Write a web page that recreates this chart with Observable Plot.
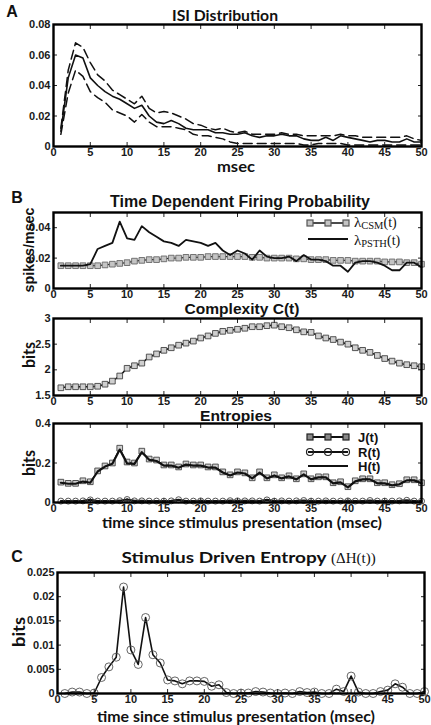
<!DOCTYPE html>
<html><head><meta charset="utf-8">
<script src="https://cdn.jsdelivr.net/npm/d3@7"></script>
<script src="https://cdn.jsdelivr.net/npm/@observablehq/plot@0.6"></script>
<style>
html,body{margin:0;padding:0;background:#fff;}
#root{position:relative;width:431px;height:725px;overflow:hidden;background:#fff;}
#root svg{position:absolute;left:0;}
</style></head><body><div id="root"></div>
<script>
// ---- data ----
const t = [1,2,3,4,5,6,7,8,9,10,11,12,13,14,15,16,17,18,19,20,21,22,23,24,25,26,27,28,29,30,31,32,33,34,35,36,37,38,39,40,41,42,43,44,45,46,47,48,49,50];
const isiMean  = [0.010,0.045,0.060,0.058,0.045,0.040,0.036,0.033,0.031,0.028,0.025,0.027,0.020,0.016,0.015,0.017,0.015,0.012,0.011,0.011,0.011,0.009,0.009,0.008,0.008,0.009,0.007,0.006,0.007,0.007,0.008,0.007,0.007,0.005,0.004,0.004,0.006,0.004,0.007,0.006,0.005,0.004,0.003,0.004,0.004,0.003,0.003,0.005,0.003,0.003];
const isiUpper = [0.012,0.050,0.068,0.065,0.055,0.047,0.043,0.037,0.034,0.031,0.028,0.033,0.025,0.022,0.023,0.022,0.020,0.018,0.015,0.014,0.012,0.011,0.012,0.010,0.009,0.010,0.008,0.008,0.008,0.008,0.009,0.008,0.008,0.007,0.007,0.007,0.007,0.007,0.008,0.007,0.007,0.006,0.006,0.006,0.006,0.006,0.006,0.007,0.005,0.004];
const isiLower = [0.008,0.035,0.050,0.046,0.036,0.032,0.029,0.024,0.022,0.020,0.016,0.021,0.016,0.013,0.013,0.013,0.012,0.011,0.008,0.007,0.007,0.006,0.005,0.003,0.002,0.002,0.002,0.002,0.002,0.002,0.002,0.002,0.002,0.001,0.001,0.002,0.002,0.002,0.002,0.001,0.001,0.001,0.001,0.001,0.001,0.001,0.001,0.001,0.001,0.001];
const lambdaCSM  = [0.015,0.015,0.015,0.015,0.015,0.015,0.0155,0.016,0.0165,0.017,0.018,0.0185,0.019,0.019,0.0195,0.020,0.020,0.0205,0.0205,0.0205,0.021,0.021,0.021,0.021,0.021,0.021,0.0205,0.0205,0.020,0.020,0.020,0.020,0.0195,0.0195,0.019,0.019,0.019,0.0185,0.0185,0.0185,0.018,0.018,0.018,0.018,0.0175,0.0175,0.0175,0.017,0.017,0.016];
const lambdaPSTH = [0.015,0.015,0.015,0.015,0.016,0.026,0.028,0.030,0.044,0.033,0.032,0.041,0.037,0.034,0.031,0.030,0.028,0.032,0.031,0.030,0.028,0.030,0.025,0.022,0.025,0.023,0.019,0.025,0.021,0.020,0.020,0.021,0.018,0.022,0.019,0.019,0.018,0.015,0.015,0.011,0.017,0.018,0.018,0.017,0.015,0.012,0.012,0.017,0.017,0.014];
const complexity = [1.65,1.67,1.67,1.67,1.67,1.68,1.72,1.78,1.88,2.03,2.08,2.13,2.25,2.31,2.38,2.43,2.48,2.52,2.56,2.62,2.66,2.71,2.75,2.77,2.79,2.81,2.84,2.84,2.86,2.87,2.84,2.82,2.78,2.74,2.73,2.66,2.62,2.59,2.54,2.50,2.43,2.38,2.34,2.28,2.22,2.17,2.13,2.10,2.08,2.06];
const entropyJ = [0.103,0.097,0.097,0.110,0.105,0.160,0.185,0.200,0.275,0.205,0.200,0.260,0.220,0.215,0.190,0.190,0.180,0.195,0.190,0.190,0.180,0.180,0.155,0.140,0.155,0.150,0.125,0.155,0.125,0.140,0.125,0.135,0.120,0.145,0.120,0.130,0.130,0.100,0.105,0.080,0.110,0.120,0.120,0.100,0.100,0.090,0.095,0.115,0.115,0.100];
const entropyH = [0.100,0.095,0.095,0.106,0.100,0.157,0.182,0.196,0.268,0.198,0.196,0.255,0.216,0.210,0.187,0.187,0.176,0.192,0.187,0.187,0.177,0.177,0.152,0.137,0.152,0.147,0.122,0.151,0.122,0.137,0.122,0.132,0.117,0.142,0.117,0.127,0.127,0.097,0.102,0.077,0.107,0.117,0.117,0.097,0.097,0.087,0.092,0.112,0.112,0.097];
const entropyR = [0.007,0.007,0.007,0.008,0.013,0.007,0.007,0.007,0.009,0.015,0.008,0.008,0.007,0.007,0.007,0.008,0.014,0.007,0.007,0.008,0.007,0.007,0.007,0.009,0.008,0.008,0.008,0.007,0.013,0.007,0.008,0.007,0.008,0.010,0.007,0.007,0.008,0.007,0.007,0.008,0.007,0.007,0.010,0.007,0.007,0.007,0.008,0.011,0.007,0.007];
const deltaH = [0,0.0003,0.0003,0,0.0001,0.0033,0.0055,0.0075,0.022,0.009,0.006,0.0157,0.008,0.0063,0.0028,0.0026,0.002,0.0026,0.0026,0.0025,0.0015,0.0018,0.0002,0,0.0001,0.0001,0.0004,0.0003,0.0001,0,0.0001,0,0.0004,0.0002,0.0003,0,0,0.0009,0.0004,0.0036,0.0003,0,0,0.0004,0.0007,0.002,0.0013,0,0,0.0004];

const xTicks = [0,5,10,15,20,25,30,35,40,45,50];
const isiTicks = [0,0.02,0.04,0.06,0.08];
const rateTicks = [0,0.02,0.04];
const complexityTicks = [1.5,2,2.5,3];
const entropyTicks = [0,0.2,0.4];
const deltaTicks = [0,0.005,0.01,0.015,0.02,0.025];

const rows = t.map((x, i) => ({
  t: x, mean: isiMean[i], upper: isiUpper[i], lower: isiLower[i],
  csm: lambdaCSM[i], psth: lambdaPSTH[i], c: complexity[i],
  J: entropyJ[i], H: entropyH[i], R: entropyR[i], dH: deltaH[i]
}));

const root = document.getElementById("root");
const W = 431;
const tickFont = "'Liberation Sans', Arial, sans-serif";

function panel({frameTop, frameBottom, ml, mr, yDomain, yTicks, marks}) {
  const mt = 6, mb = 22;
  const svg = Plot.plot({
    width: W, height: frameBottom - frameTop + mt + mb,
    marginTop: mt, marginBottom: mb, marginLeft: ml, marginRight: mr,
    style: {fontFamily: tickFont, fontSize: "11px", fontWeight: "bold", color: "#1a1a1a", background: "transparent", overflow: "visible"},
    x: {domain: [0, 50]},
    y: {domain: yDomain},
    marks: [
      ...marks,
      Plot.axisX(xTicks, {anchor: "bottom", tickSize: -4, tickPadding: 6, label: null, tickFormat: d => String(d), stroke: "#222"}),
      Plot.axisX(xTicks, {anchor: "top", tickSize: -4, tickFormat: () => "", label: null, stroke: "#222"}),
      Plot.axisY(yTicks, {anchor: "left", tickSize: -4, tickPadding: 7, label: null, tickFormat: d => String(d), stroke: "#222"}),
      Plot.axisY(yTicks, {anchor: "right", tickSize: -4, tickFormat: () => "", label: null, stroke: "#222"}),
      Plot.frame({stroke: "#000", strokeWidth: 2.4})
    ]
  });
  svg.style.top = (frameTop - mt) + "px";
  root.appendChild(svg);
}

// Panel A
panel({frameTop: 24, frameBottom: 146, ml: 53, mr: 10, yDomain: [0, 0.08], yTicks: isiTicks, marks: [
  Plot.line(rows, {x: "t", y: "upper", stroke: "#111", strokeWidth: 1.5, strokeDasharray: "9,5"}),
  Plot.line(rows, {x: "t", y: "lower", stroke: "#111", strokeWidth: 1.5, strokeDasharray: "9,5"}),
  Plot.line(rows, {x: "t", y: "mean", stroke: "#111", strokeWidth: 1.6})
]});

// Panel B1
panel({frameTop: 212, frameBottom: 288, ml: 53, mr: 10, yDomain: [0, 0.05], yTicks: rateTicks, marks: [
  Plot.line(rows, {x: "t", y: "csm", stroke: "#222", strokeWidth: 1.3}),
  Plot.dot(rows, {x: "t", y: "csm", symbol: "square", r: 3.2, fill: "#c4c4c4", stroke: "#666", strokeWidth: 0.9}),
  Plot.line(rows, {x: "t", y: "psth", stroke: "#111", strokeWidth: 1.8})
]});

// Panel B2
panel({frameTop: 318, frameBottom: 395, ml: 53, mr: 10, yDomain: [1.5, 3], yTicks: complexityTicks, marks: [
  Plot.line(rows, {x: "t", y: "c", stroke: "#111", strokeWidth: 1.6}),
  Plot.dot(rows, {x: "t", y: "c", symbol: "square", r: 3.2, fill: "#cfcfcf", stroke: "#444", strokeWidth: 0.9})
]});

// Panel B3
panel({frameTop: 423, frameBottom: 502, ml: 53, mr: 10, yDomain: [0, 0.4], yTicks: entropyTicks, marks: [
  Plot.line(rows, {x: "t", y: "J", stroke: "#222", strokeWidth: 1}),
  Plot.dot(rows, {x: "t", y: "J", symbol: "square", r: 3.2, fill: "#cfcfcf", stroke: "#444", strokeWidth: 0.9}),
  Plot.line(rows, {x: "t", y: "H", stroke: "#111", strokeWidth: 2.2}),
  Plot.line(rows, {x: "t", y: "R", stroke: "#111", strokeWidth: 2.2}),
  Plot.dot(rows, {x: "t", y: "R", r: 3, fill: "none", stroke: "#444", strokeWidth: 0.9})
]});

// Panel C
panel({frameTop: 572, frameBottom: 693, ml: 57, mr: 7, yDomain: [0, 0.025], yTicks: deltaTicks, marks: [
  Plot.line(rows, {x: "t", y: "dH", stroke: "#111", strokeWidth: 1.6}),
  Plot.dot(rows, {x: "t", y: "dH", r: 4, fill: "none", stroke: "#555", strokeWidth: 0.9})
]});

// ---- text overlay ----
const ov = d3.create("svg").attr("width", W).attr("height", 725)
  .style("top", "0px").style("pointer-events", "none").style("overflow", "visible");
const H = "'Liberation Sans', Arial, sans-serif";
const M = "Lato, 'Open Sans', sans-serif";
const S = "'Liberation Serif', 'Times New Roman', serif";
function txt(x, y, s, {size = 15, family = H, anchor = "middle", rotate = 0, len = null, weight = "bold"} = {}) {
  const el = ov.append("text").attr("x", x).attr("y", y).attr("text-anchor", anchor)
    .attr("font-family", family).attr("font-size", size).attr("font-weight", weight).attr("fill", "#111").text(s);
  if (rotate) el.attr("transform", `rotate(${rotate},${x},${y})`);
  if (len) el.attr("textLength", len).attr("lengthAdjust", "spacingAndGlyphs");
  return el;
}
txt(12, 17, "A", {size: 16});
txt(225, 21, "ISI Distribution", {size: 15, family: M, len: 106});
txt(236, 172, "msec", {size: 15, family: M, len: 38});
txt(17, 203, "B", {size: 16});
txt(240, 207, "Time Dependent Firing Probability", {size: 16, len: 260});
txt(34, 250, "spikes/msec", {size: 14.5, rotate: -90, len: 85});
txt(242, 314, "Complexity C(t)", {size: 15.5, len: 115});
txt(35, 355, "bits", {size: 17, family: M, rotate: -90, len: 26});
txt(236, 421, "Entropies", {size: 15.5, len: 72});
txt(35, 463, "bits", {size: 17, family: M, rotate: -90, len: 26});
txt(242, 528, "time since stimulus presentation (msec)", {size: 14.5, family: M, len: 280});
txt(17, 562, "C", {size: 16});
txt(224, 563, "Stimulus Driven Entropy", {size: 15, family: M, len: 205});
txt(331, 563, "(ΔH(t))", {size: 15, family: S, weight: "normal", anchor: "start"});
txt(25, 632, "bits", {size: 17, family: M, rotate: -90, len: 30});
txt(236, 722, "time since stimulus presentation (msec)", {size: 15, family: M, len: 278});

// legend B1
function legLine(y, w) { ov.append("line").attr("x1", 308).attr("x2", 348).attr("y1", y).attr("y2", y).attr("stroke", "#111").attr("stroke-width", w); }
function legSquares(y, fill, stroke) { [310, 328, 346].forEach(x => ov.append("rect").attr("x", x - 3).attr("y", y - 3).attr("width", 6).attr("height", 6).attr("fill", fill).attr("stroke", stroke).attr("stroke-width", 1.2)); }
function legCircles(y) { [310, 328, 346].forEach(x => ov.append("circle").attr("cx", x).attr("cy", y).attr("r", 3.5).attr("fill", "none").attr("stroke", "#222").attr("stroke-width", 1.2)); }
legLine(223, 1.5); legSquares(223, "#c4c4c4", "#555");
legLine(239, 2);
function lam(y, sub) {
  const el = ov.append("text").attr("x", 354).attr("y", y).attr("font-family", S).attr("font-size", 15).attr("fill", "#111");
  el.append("tspan").text("λ");
  el.append("tspan").attr("font-size", 10.5).attr("dy", 1.5).text(sub);
  el.append("tspan").attr("font-size", 14).attr("dy", -1.5).text("(t)");
}
lam(227, "CSM"); lam(245, "PSTH");

// legend B3
legLine(437, 2); legSquares(437, "#888", "#222");
legLine(452, 2); legCircles(452);
legLine(466, 2.2);
txt(358, 442, "J(t)", {size: 13, anchor: "start"});
txt(358, 457, "R(t)", {size: 13, anchor: "start"});
txt(358, 471, "H(t)", {size: 13, anchor: "start"});

root.appendChild(ov.node());
</script>
</body></html>
